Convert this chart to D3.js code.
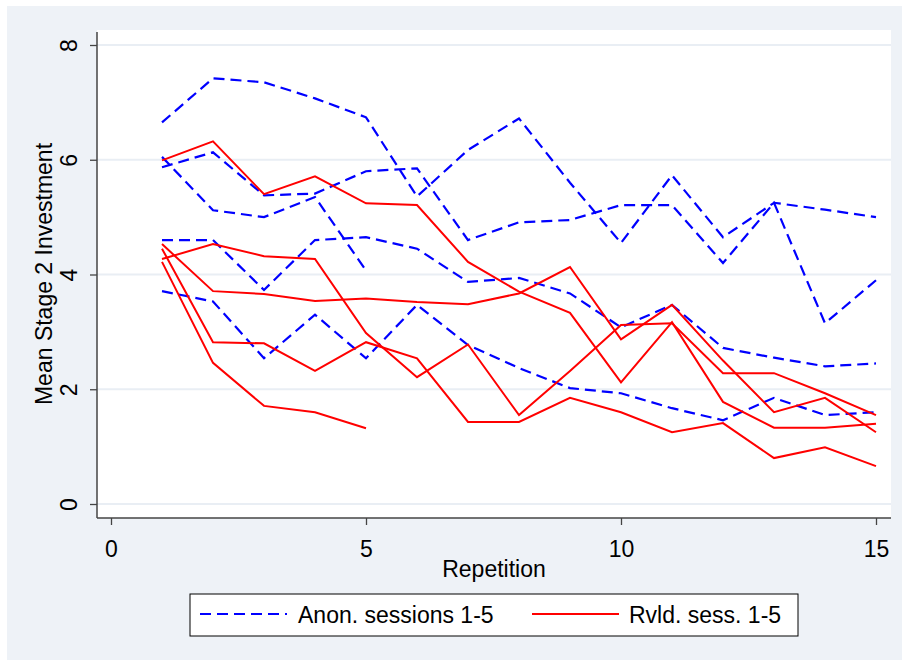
<!DOCTYPE html>
<html>
<head>
<meta charset="utf-8">
<script src="https://cdn.jsdelivr.net/npm/d3@7"></script>
<style>
  html, body { margin: 0; padding: 0; background: #ffffff; }
  svg { display: block; }
  text { font-family: "Liberation Sans", Arial, Helvetica, sans-serif; fill: #000; }
</style>
</head>
<body>
<svg id="chart" width="902" height="660"></svg>
<script>
// ---- data ----
const repetitions = [1, 2, 3, 4, 5, 6, 7, 8, 9, 10, 11, 12, 13, 14, 15];

const anonSession1 = [6.65, 7.42, 7.35, 7.07, 6.74, 5.36, 6.17, 6.72, 5.60, 4.55, 5.73, 4.65, 5.25, 5.13, 5.00];
const anonSession2 = [5.87, 6.13, 5.38, 5.41, 5.80, 5.85, 4.60, 4.91, 4.95, 5.21, 5.21, 4.20, 5.25, 3.15, 3.90];
const anonSession3 = [6.05, 5.12, 5.00, 5.35, 4.07];
const anonSession4 = [4.60, 4.60, 3.73, 4.60, 4.65, 4.45, 3.87, 3.94, 3.67, 3.08, 3.47, 2.72, 2.55, 2.40, 2.45];
const anonSession5 = [3.71, 3.53, 2.54, 3.30, 2.54, 3.47, 2.77, 2.37, 2.02, 1.93, 1.67, 1.46, 1.85, 1.55, 1.60];

const rvldSession1 = [5.99, 6.32, 5.40, 5.71, 5.24, 5.21, 4.22, 3.70, 3.33, 2.12, 3.17, 1.78, 1.33, 1.33, 1.40];
const rvldSession2 = [4.27, 4.53, 4.32, 4.27, 2.98, 2.21, 2.78, 1.55, 2.32, 3.12, 3.15, 2.28, 2.28, 1.93, 1.55];
const rvldSession3 = [4.53, 3.71, 3.66, 3.54, 3.58, 3.52, 3.48, 3.67, 4.13, 2.87, 3.47, 2.50, 1.60, 1.85, 1.25];
const rvldSession4 = [4.45, 2.82, 2.80, 2.32, 2.82, 2.54, 1.43, 1.43, 1.85, 1.60, 1.25, 1.41, 0.80, 0.99, 0.66];
const rvldSession5 = [4.22, 2.46, 1.71, 1.60, 1.32];

const xTicks = [0, 5, 10, 15];
const yTicks = [0, 2, 4, 6, 8];
const legendLabels = ["Anon. sessions 1-5", "Rvld. sess. 1-5"];
const xTitle = "Repetition";
const yTitle = "Mean Stage 2 Investment";

// ---- drawing ----
const svg = d3.select("#chart");
const W = 902, H = 660;
const plot = { left: 97, right: 891, top: 30, bottom: 518 };
const FS = "23px";

// outer panel
svg.append("rect").attr("x", 7).attr("y", 6).attr("width", W - 7).attr("height", H - 6)
  .attr("fill", "#eef2f7");
// plot region
svg.append("rect").attr("x", plot.left).attr("y", plot.top)
  .attr("width", plot.right - plot.left).attr("height", plot.bottom - plot.top)
  .attr("fill", "#ffffff");

const x = d3.scaleLinear().domain([0, 15]).range([111, 876]);
const y = d3.scaleLinear().domain([0, 8]).range([504, 45]);

// gridlines
svg.append("g").selectAll("line").data(yTicks).join("line")
  .attr("x1", plot.left).attr("x2", plot.right)
  .attr("y1", d => y(d)).attr("y2", d => y(d))
  .attr("stroke", "#e9eef4").attr("stroke-width", 2);

// series
const line = d3.line().x((d, i) => x(repetitions[i])).y(d => y(d));
const anon = [anonSession1, anonSession2, anonSession3, anonSession4, anonSession5];
const rvld = [rvldSession1, rvldSession2, rvldSession3, rvldSession4, rvldSession5];

svg.append("g").selectAll("path").data(anon).join("path")
  .attr("d", line).attr("fill", "none")
  .attr("stroke", "#0000ff").attr("stroke-width", 2.2)
  .attr("stroke-dasharray", "11,6");

svg.append("g").selectAll("path").data(rvld).join("path")
  .attr("d", line).attr("fill", "none")
  .attr("stroke", "#ff0000").attr("stroke-width", 2);

// axes
const yAxis = svg.append("g").attr("transform", `translate(${plot.left},0)`)
  .call(d3.axisLeft(y).tickValues(yTicks).tickSize(7).tickSizeOuter(0).tickFormat(d3.format("d")));
yAxis.select(".domain").remove();
yAxis.append("line").attr("x1", 0).attr("x2", 0).attr("y1", plot.top + 2).attr("y2", plot.bottom)
  .attr("stroke", "#444").attr("stroke-width", 1.5);
yAxis.selectAll(".tick line").attr("stroke", "#444").attr("stroke-width", 1.3);
yAxis.selectAll(".tick text")
  .attr("x", null).attr("dy", null)
  .attr("transform", "translate(-20,0) rotate(-90)")
  .attr("text-anchor", "middle")
  .style("font-size", FS).style("font-family", '"Liberation Sans", Arial, sans-serif')
  .attr("fill", "#000");

const xAxis = svg.append("g").attr("transform", `translate(0,${plot.bottom})`)
  .call(d3.axisBottom(x).tickValues(xTicks).tickSize(7).tickSizeOuter(0).tickFormat(d3.format("d")));
xAxis.select(".domain").remove();
xAxis.append("line").attr("x1", plot.left).attr("x2", plot.right).attr("y1", 0).attr("y2", 0)
  .attr("stroke", "#444").attr("stroke-width", 1.5);
xAxis.selectAll(".tick line").attr("stroke", "#444").attr("stroke-width", 1.3);
xAxis.selectAll(".tick text")
  .attr("y", 39).attr("dy", null)
  .style("font-size", FS).style("font-family", '"Liberation Sans", Arial, sans-serif')
  .attr("fill", "#000");

// axis titles
svg.append("text").attr("x", 494).attr("y", 577).attr("text-anchor", "middle")
  .style("font-size", FS).text(xTitle);
svg.append("text").attr("transform", `translate(52,274) rotate(-90)`).attr("text-anchor", "middle")
  .style("font-size", FS).text(yTitle);

// legend
const lg = svg.append("g");
lg.append("rect").attr("x", 190).attr("y", 594).attr("width", 608).attr("height", 42)
  .attr("fill", "#ffffff").attr("stroke", "#000").attr("stroke-width", 1);
lg.append("line").attr("x1", 200).attr("x2", 287).attr("y1", 614).attr("y2", 614)
  .attr("stroke", "#0000ff").attr("stroke-width", 2.2).attr("stroke-dasharray", "11,6");
lg.append("text").attr("x", 298).attr("y", 623).style("font-size", FS).text(legendLabels[0]);
lg.append("line").attr("x1", 532).attr("x2", 619).attr("y1", 614).attr("y2", 614)
  .attr("stroke", "#ff0000").attr("stroke-width", 2);
lg.append("text").attr("x", 629).attr("y", 623).style("font-size", FS).text(legendLabels[1]);
</script>
</body>
</html>
